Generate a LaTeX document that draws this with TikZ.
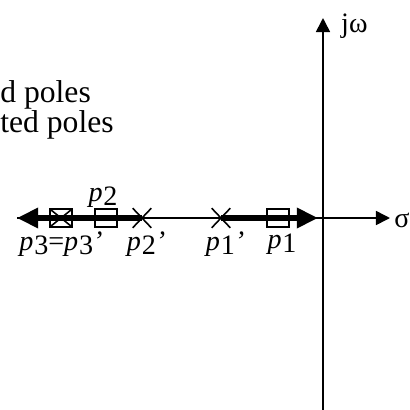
\documentclass[tikz,border=0pt]{standalone}
\usepackage{fontspec}
\setmainfont{Liberation Serif}
\usetikzlibrary{shapes.misc,arrows.meta}
\newcommand{\pole}[1]{\textit{p}\kern0.5pt\raisebox{-0.3ex}{#1}}
\begin{document}
\begin{tikzpicture}[x=0.02cm,y=-0.02cm,font=\fontsize{16}{18}\selectfont,
  axis/.style={line width=0.9pt,-{Triangle[length=8pt,width=8pt]}},
  thickarrow/.style={line width=3.4pt,-{Triangle[length=12pt,width=11pt]}},
  box/.style={draw,rectangle,line width=0.9pt,inner sep=0pt,minimum width=0.44cm,minimum height=0.36cm},
  xmark/.style={draw,cross out,line width=0.9pt,inner sep=0pt,minimum width=0.34cm,minimum height=0.36cm}]
\clip (0,0) rectangle (410,410);
\coordinate(L) at (17,218);
\coordinate(R) at (390,218);
\coordinate(E) at (318,218);
\coordinate(T) at (323,18);
\coordinate(B) at (323,410);
\draw[axis](L)--(R);
\draw[axis](B)--(T);
\node(P2c)[xmark] at (142,218){};
\node(P1c)[xmark] at (221,218){};
\draw[thickarrow](P2c.center)--(L);
\draw[thickarrow](P1c.center)--(E);
\node(P3)[box] at (61,218){};
\node(P3x)[xmark,minimum width=0.38cm,minimum height=0.3cm] at (61,218){};
\node(P2)[box] at (106,218){};
\node(P1)[box] at (278,218){};
% labels
\node(P2lab) at (103,197){\pole{2}};
\node(P3lab) at (61,244){\pole{3}=\pole{3}\textit{’}};
\node(P2clab) at (146,244){\pole{2}\textit{’}};
\node(P1clab) at (225,244){\pole{1}\textit{’}};
\node(P1lab) at (282,244){\pole{1}};
\node(jw)[anchor=west] at (335,26){jω};
\node(sigma)[anchor=west,inner sep=0pt] at (394,220){σ};
\node(leg1)[anchor=base west,inner sep=0pt,font=\fontsize{18}{20}\selectfont] at (0,102){d poles};
\node(leg2)[anchor=base west,inner sep=0pt,font=\fontsize{18}{20}\selectfont] at (0,132){ted poles};
\end{tikzpicture}
\end{document}
